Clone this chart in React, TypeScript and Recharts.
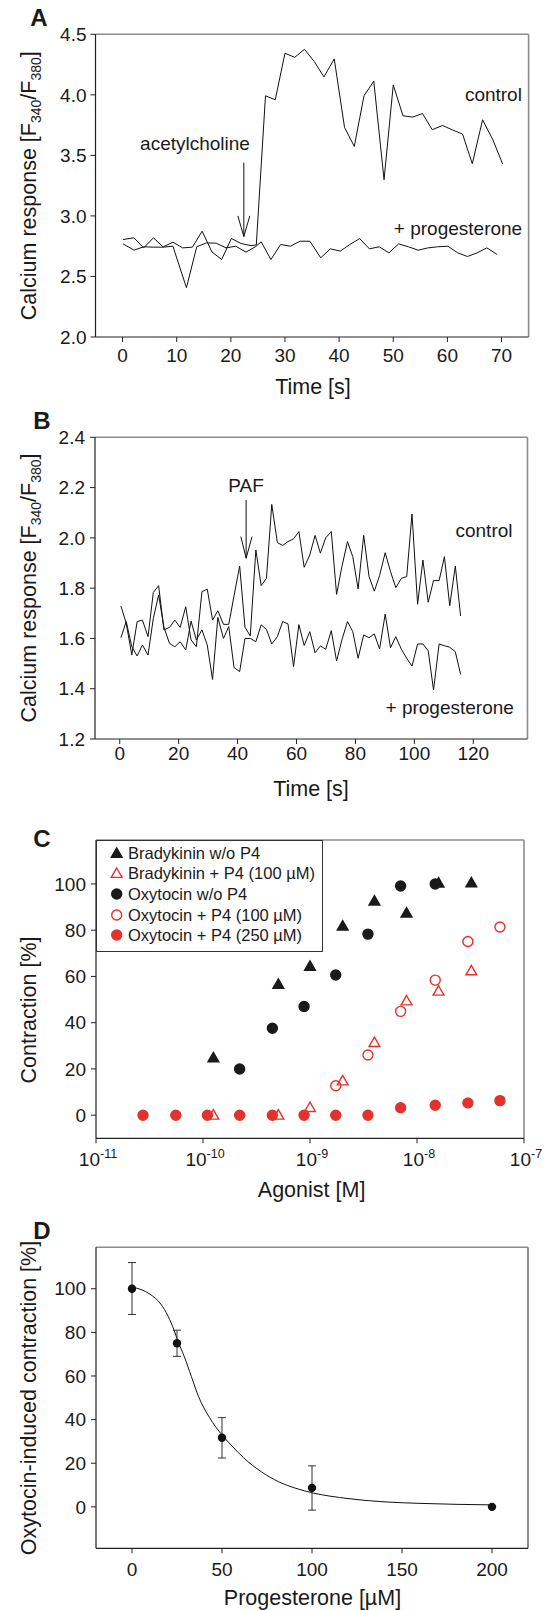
import React from 'react';
import {
  LineChart, Line, XAxis, YAxis, ReferenceLine, ScatterChart, Scatter,
  ComposedChart, ErrorBar,
} from 'recharts';

const FONT = '"Liberation Sans", Arial, Helvetica, sans-serif';
const W = 546;
const RED = '#e3322b';
const INK = '#1a1a1a';
const FRAME = '#8c8c8c';

// ---------- Panel A ----------
const aCtrlTime = [0.1, 2.1, 3.9, 5.7, 7.5, 9.3, 11.1, 12.9, 14.7, 16.5, 18.3, 20.1, 21.9, 23.7, 24.7, 26.4, 28.2, 30.0, 31.8, 33.6, 35.4, 37.2, 39.1, 41.0, 42.8, 44.6, 46.4, 48.3, 50.0, 51.8, 53.6, 55.4, 57.2, 59.1, 61.0, 62.8, 64.6, 66.5, 68.4, 70.2];
const aCtrlValue = [2.805, 2.819, 2.736, 2.819, 2.744, 2.783, 2.736, 2.742, 2.874, 2.703, 2.640, 2.813, 2.772, 2.755, 2.760, 3.992, 3.959, 4.343, 4.310, 4.376, 4.275, 4.148, 4.297, 3.731, 3.574, 3.992, 4.113, 3.299, 4.082, 3.827, 3.816, 3.846, 3.712, 3.747, 3.709, 3.676, 3.431, 3.794, 3.629, 3.429];
const aProgTime = [0.1, 2.1, 3.9, 5.7, 7.5, 9.3, 11.8, 13.7, 15.5, 17.3, 19.1, 20.9, 22.8, 24.6, 25.6, 27.4, 29.2, 31.0, 32.8, 34.6, 36.6, 38.4, 40.2, 42.0, 43.8, 45.6, 47.4, 49.2, 51.0, 52.8, 54.6, 56.4, 58.2, 60.1, 61.9, 63.7, 65.5, 67.3, 69.2];
const aProgValue = [2.769, 2.717, 2.745, 2.742, 2.742, 2.750, 2.407, 2.745, 2.777, 2.775, 2.736, 2.750, 2.701, 2.747, 2.786, 2.640, 2.764, 2.750, 2.791, 2.791, 2.654, 2.728, 2.709, 2.764, 2.813, 2.728, 2.745, 2.695, 2.769, 2.745, 2.717, 2.736, 2.745, 2.750, 2.695, 2.665, 2.695, 2.736, 2.681];
const aXTicks = [0, 10, 20, 30, 40, 50, 60, 70];
const aYTicks = [2.0, 2.5, 3.0, 3.5, 4.0, 4.5];

// ---------- Panel B ----------
const bTime = [0.4, 2.2, 4.1, 5.9, 7.7, 9.6, 11.4, 13.2, 15.0, 16.9, 18.7, 20.5, 22.4, 24.2, 26.0, 27.9, 29.7, 31.5, 33.3, 35.2, 37.0, 38.8, 40.7, 42.5, 44.3, 46.2, 48.0, 49.8, 51.6, 53.5, 55.3, 57.1, 59.0, 60.8, 62.6, 64.5, 66.3, 68.1, 69.9, 71.8, 73.6, 75.4, 77.3, 79.1, 80.9, 82.8, 84.6, 86.4, 88.2, 90.1, 91.9, 93.7, 95.6, 97.4, 99.2, 101.1, 102.9, 104.7, 106.5, 108.4, 110.2, 112.0, 113.9, 115.7];
const bControl = [1.729, 1.660, 1.534, 1.667, 1.673, 1.607, 1.783, 1.810, 1.634, 1.644,
  1.673, 1.644, 1.726, 1.594, 1.567, 1.786, 1.796, 1.673, 1.710, 1.656,
  1.656, 1.770, 1.888, 1.645, 1.610, 1.952, 1.810, 1.839, 2.133, 1.981,
  1.970, 1.985, 1.996, 2.025, 1.883, 1.932, 2.010, 1.939, 2.000, 2.025,
  1.775, 1.885, 1.985, 1.925, 1.797, 2.010, 1.847, 1.788, 1.850, 1.941,
  1.866, 1.802, 1.839, 1.846, 2.095, 1.736, 1.912, 1.744, 1.830, 1.830,
  1.925, 1.730, 1.888, 1.689];
const bProgesterone = [1.603, 1.667, 1.567, 1.530, 1.574, 1.534, 1.680, 1.773, 1.644, 1.580,
  1.567, 1.587, 1.554, 1.669, 1.594, 1.634, 1.574, 1.437, 1.684, 1.600,
  1.647, 1.484, 1.468, 1.600, 1.600, 1.587, 1.654, 1.636, 1.578, 1.607,
  1.667, 1.658, 1.488, 1.655, 1.572, 1.627, 1.543, 1.570, 1.557, 1.631,
  1.510, 1.594, 1.667, 1.627, 1.521, 1.614, 1.603, 1.618, 1.558, 1.697,
  1.563, 1.607, 1.557, 1.521, 1.490, 1.578, 1.578, 1.551, 1.395, 1.578,
  1.571, 1.565, 1.547, 1.457];
const bXTicks = [0, 20, 40, 60, 80, 100, 120];
const bYTicks = [1.2, 1.4, 1.6, 1.8, 2.0, 2.2, 2.4];

// ---------- Panel C ----------
const bkConc = [1.25e-10, 5.06e-10, 1.0e-9, 2.02e-9, 4.0e-9, 7.98e-9, 1.59e-8, 3.22e-8];
const bkNoP4 = [25.0, 56.8, 64.6, 82.0, 92.8, 87.6, 100.6, 100.7];
const bkP4 = [0.2, 0.2, 3.5, 15.0, 31.6, 49.6, 53.8, 62.6];
const oxConc = [2.75e-11, 5.57e-11, 1.10e-10, 2.2e-10, 4.45e-10, 8.8e-10, 1.74e-9, 3.48e-9, 7.03e-9, 1.48e-8, 2.99e-8, 5.96e-8];
const oxNoP4 = [null, null, null, 20.0, 37.6, 47.0, 60.6, 78.3, 99.1, 100.0, null, null];
const oxP4_100 = [null, null, null, null, null, null, 12.7, 26.0, 44.9, 58.4, 75.1, 81.4];
const oxP4_250 = [0, 0, 0, 0, 0, 0, 0, 0, 3.2, 4.3, 5.3, 6.3];
const cXTicks = [1e-11, 1e-10, 1e-9, 1e-8, 1e-7];
const cYTicks = [0, 20, 40, 60, 80, 100];

// ---------- Panel D ----------
const dConc = [0, 25, 50, 100, 200];
const dResp = [100, 75, 31.7, 8.7, 0];
const dErrLow = [11.8, 6, 9.3, 10.2, 0];
const dErrHigh = [12, 6, 9.2, 10.1, 0];
const dFitX = [0, 10, 16, 20, 23.5, 25.5, 29, 33, 37, 43, 50, 56, 62, 72, 81.5, 91, 101, 120, 140, 160, 200];
const dFitY = [100.8, 97.5, 93, 87.5, 80.7, 76, 69, 59.7, 50.5, 41, 33, 27.5, 22.5, 16, 11.5, 8.5, 6.3, 3.8, 2.3, 1.6, 0.9];
const dXTicks = [0, 50, 100, 150, 200];
const dYTicks = [0, 20, 40, 60, 80, 100];

// ---------- tables ----------
const aCtrl = aCtrlTime.map((t, i) => ({ t, v: aCtrlValue[i] }));
const aProg = aProgTime.map((t, i) => ({ t, v: aProgValue[i] }));
const bData = bTime.map((t, i) => ({ t, c: bControl[i], p: bProgesterone[i] }));
const toPts = (xs: number[], ys: (number | null)[]) =>
  xs.map((x, i) => ({ x, y: ys[i] })).filter((d) => d.y !== null) as { x: number; y: number }[];
const cBk = toPts(bkConc, bkNoP4);
const cBkP4 = toPts(bkConc, bkP4);
const cOx = toPts(oxConc, oxNoP4);
const cOx100 = toPts(oxConc, oxP4_100);
const cOx250 = toPts(oxConc, oxP4_250);
const dPts = dConc.map((x, i) => ({ x, y: dResp[i], err: [dErrLow[i], dErrHigh[i]] }));
const dFit = dFitX.map((x, i) => ({ x, y: dFitY[i] }));

const YW = 60;
const XH = 30;
function margins(chartTop: number, chartH: number, left: number, top: number, right: number, bottom: number) {
  return { top: top - chartTop, left: left - YW, right: W - right, bottom: chartH - (bottom - chartTop) - XH };
}

const tickStyle = { fontSize: 19, fill: INK, fontFamily: FONT };
const axisLine = { stroke: '#222', strokeWidth: 1.2 };
const tickLine = { stroke: '#222', strokeWidth: 1 };

// marker shapes
const Tri = ({ cx, cy, fill, stroke }: any) => (
  <polygon
    points={`${cx},${cy - 5} ${cx + 5.4},${cy + 4.4} ${cx - 5.4},${cy + 4.4}`}
    fill={fill}
    stroke={stroke}
    strokeWidth={1.4}
  />
);
const Dot = ({ cx, cy, fill, stroke, r = 5 }: any) => (
  <circle cx={cx} cy={cy} r={r} fill={fill} stroke={stroke} strokeWidth={1.4} />
);

const PowTick = (props: any) => {
  const { x, y, payload } = props;
  const exp = Math.round(Math.log10(payload.value));
  return (
    <text x={x + 2} y={y} textAnchor="middle" fontFamily={FONT} fill={INK}>
      <tspan dy={23} fontSize={19}>10</tspan>
      <tspan dy={-8.5} fontSize={12.5}>{String(exp)}</tspan>
    </text>
  );
};

const legendItems = [
  { label: 'Bradykinin w/o P4', kind: 'tri', fill: INK, stroke: INK },
  { label: 'Bradykinin + P4 (100 µM)', kind: 'tri', fill: 'none', stroke: RED },
  { label: 'Oxytocin w/o P4', kind: 'dot', fill: INK, stroke: INK },
  { label: 'Oxytocin + P4 (100 µM)', kind: 'dot', fill: 'none', stroke: RED },
  { label: 'Oxytocin + P4 (250 µM)', kind: 'dot', fill: RED, stroke: RED },
];

export default function App() {
  const mA = margins(0, 400, 95.5, 34.3, 528.6, 337);
  const mB = margins(400, 410, 95, 437.3, 527.5, 739);
  const mC = margins(810, 410, 96, 840, 524, 1138.3);
  const mD = margins(1220, 390, 96, 1247.3, 528, 1548.3);

  return (
    <div style={{ position: 'absolute', left: 0, top: 0, width: W, height: 1610, background: '#fff', fontFamily: FONT }}>
      {/* Panel A */}
      <div style={{ position: 'absolute', left: 0, top: 0 }}>
        <LineChart width={W} height={400} margin={mA}>
          <XAxis type="number" dataKey="t" domain={[-5, 75]} ticks={aXTicks} interval={0}
            tick={tickStyle} tickSize={5} tickMargin={7} axisLine={axisLine} tickLine={tickLine} height={XH} />
          <YAxis type="number" domain={[2, 4.5]} ticks={aYTicks} interval={0} width={YW}
            tickFormatter={(v: number) => v.toFixed(1)}
            tick={tickStyle} tickSize={5} tickMargin={4} axisLine={axisLine} tickLine={tickLine} />
          <ReferenceLine y={4.5} stroke={FRAME} strokeWidth={1.6} />
          <ReferenceLine x={75} stroke={FRAME} strokeWidth={1.6} />
          <Line data={aProg} dataKey="v" type="linear" dot={false} stroke="#111" strokeWidth={1} isAnimationActive={false} />
          <Line data={aCtrl} dataKey="v" type="linear" dot={false} stroke="#111" strokeWidth={1} isAnimationActive={false} />
          <ReferenceLine segment={[{ x: 22.4, y: 3.44 }, { x: 22.4, y: 2.83 }]} stroke="#111" strokeWidth={1} />
          <ReferenceLine segment={[{ x: 21.3, y: 3.0 }, { x: 22.4, y: 2.83 }]} stroke="#111" strokeWidth={1} />
          <ReferenceLine segment={[{ x: 23.5, y: 3.0 }, { x: 22.4, y: 2.83 }]} stroke="#111" strokeWidth={1} />
        </LineChart>
      </div>

      {/* Panel B */}
      <div style={{ position: 'absolute', left: 0, top: 400 }}>
        <LineChart width={W} height={410} margin={mB} data={bData}>
          <XAxis type="number" dataKey="t" domain={[-8.4, 138.4]} ticks={bXTicks} interval={0}
            tick={tickStyle} tickSize={5} tickMargin={3} axisLine={axisLine} tickLine={tickLine} height={XH} />
          <YAxis type="number" domain={[1.2, 2.4]} ticks={bYTicks} interval={0} width={YW}
            tickFormatter={(v: number) => v.toFixed(1)}
            tick={tickStyle} tickSize={5} tickMargin={5} axisLine={axisLine} tickLine={tickLine} />
          <ReferenceLine y={2.4} stroke={FRAME} strokeWidth={1.6} />
          <ReferenceLine x={138.4} stroke={FRAME} strokeWidth={1.6} />
          <Line dataKey="p" type="linear" dot={false} stroke="#111" strokeWidth={1} isAnimationActive={false} />
          <Line dataKey="c" type="linear" dot={false} stroke="#111" strokeWidth={1} isAnimationActive={false} />
          <ReferenceLine segment={[{ x: 42.9, y: 2.151 }, { x: 42.9, y: 1.919 }]} stroke="#111" strokeWidth={1} />
          <ReferenceLine segment={[{ x: 41.1, y: 2.005 }, { x: 42.9, y: 1.919 }]} stroke="#111" strokeWidth={1} />
          <ReferenceLine segment={[{ x: 44.9, y: 2.005 }, { x: 42.9, y: 1.919 }]} stroke="#111" strokeWidth={1} />
        </LineChart>
      </div>

      {/* Panel C */}
      <div style={{ position: 'absolute', left: 0, top: 810 }}>
        <ScatterChart width={W} height={410} margin={mC}>
          <XAxis type="number" dataKey="x" scale="log" domain={[1e-11, 1e-7]} ticks={cXTicks} interval={0}
            allowDataOverflow tick={<PowTick />} tickSize={5} tickMargin={0} axisLine={axisLine} tickLine={tickLine} height={XH} />
          <YAxis type="number" dataKey="y" domain={[-10, 119]} ticks={cYTicks} interval={0} width={YW}
            tick={tickStyle} tickSize={5} tickMargin={5} axisLine={axisLine} tickLine={tickLine} />
          <ReferenceLine y={119} stroke={FRAME} strokeWidth={1.6} />
          <ReferenceLine x={1e-7} stroke={FRAME} strokeWidth={1.6} />
          <Scatter data={cBk} isAnimationActive={false} shape={(p: any) => <Tri cx={p.cx} cy={p.cy} fill={INK} stroke={INK} />} />
          <Scatter data={cOx} isAnimationActive={false} shape={(p: any) => <Dot cx={p.cx} cy={p.cy} fill={INK} stroke={INK} />} />
          <Scatter data={cOx100} isAnimationActive={false} shape={(p: any) => <Dot cx={p.cx} cy={p.cy} fill="none" stroke={RED} />} />
          <Scatter data={cBkP4} isAnimationActive={false} shape={(p: any) => <Tri cx={p.cx} cy={p.cy} fill="none" stroke={RED} />} />
          <Scatter data={cOx250} isAnimationActive={false} shape={(p: any) => <Dot cx={p.cx} cy={p.cy} fill={RED} stroke={RED} />} />
        </ScatterChart>
      </div>

      {/* Panel D */}
      <div style={{ position: 'absolute', left: 0, top: 1220 }}>
        <ComposedChart width={W} height={390} margin={mD}>
          <XAxis type="number" dataKey="x" domain={[-20, 220]} ticks={dXTicks} interval={0}
            tick={tickStyle} tickSize={5} tickMargin={9} axisLine={axisLine} tickLine={tickLine} height={XH} />
          <YAxis type="number" dataKey="y" domain={[-19, 119]} ticks={dYTicks} interval={0} width={YW}
            tick={tickStyle} tickSize={5} tickMargin={5} axisLine={axisLine} tickLine={tickLine} />
          <ReferenceLine y={119} stroke={FRAME} strokeWidth={1.6} />
          <ReferenceLine x={220} stroke={FRAME} strokeWidth={2} />
          <Line data={dFit} dataKey="y" type="monotone" dot={false} stroke="#111" strokeWidth={1} isAnimationActive={false} />
          <Scatter data={dPts} dataKey="y" isAnimationActive={false}
            shape={(p: any) => <circle cx={p.cx} cy={p.cy} r={4.2} fill="#111" />}>
            <ErrorBar dataKey="err" direction="y" width={4} stroke="#333" strokeWidth={1} />
          </Scatter>
        </ComposedChart>
      </div>

      {/* Legend for C */}
      <div style={{ position: 'absolute', left: 96, top: 840, width: 227, height: 112, border: '1px solid #333', boxSizing: 'border-box', background: '#fff' }}>
        {legendItems.map((it, i) => (
          <div key={i} style={{ position: 'absolute', left: 0, top: 1.7 + i * 20.65, height: 20, width: 226 }}>
            <svg width={30} height={20} style={{ position: 'absolute', left: 0, top: 0 }}>
              {it.kind === 'tri'
                ? <Tri cx={19.7} cy={10} fill={it.fill} stroke={it.stroke} />
                : <Dot cx={19.7} cy={10} fill={it.fill} stroke={it.stroke} />}
            </svg>
            <span style={{ position: 'absolute', left: 31, top: 0, lineHeight: '20px', fontSize: 16.5, color: INK, whiteSpace: 'nowrap' }}>{it.label}</span>
          </div>
        ))}
      </div>

      {/* Text overlay */}
      <svg width={W} height={1610} style={{ position: 'absolute', left: 0, top: 0, pointerEvents: 'none' }} fontFamily={FONT} fill={INK}>
        <text x={39} y={26} fontSize={24} fontWeight="bold" textAnchor="middle">A</text>
        <text x={42} y={428.6} fontSize={24} fontWeight="bold" textAnchor="middle">B</text>
        <text x={42} y={847} fontSize={24} fontWeight="bold" textAnchor="middle">C</text>
        <text x={42} y={1239} fontSize={24} fontWeight="bold" textAnchor="middle">D</text>

        <text transform="translate(36,185.7) rotate(-90)" fontSize={21.5} textAnchor="middle">
          Calcium response [F<tspan fontSize={14} dy={5}>340</tspan><tspan dy={-5}>/F</tspan><tspan fontSize={14} dy={5}>380</tspan><tspan dy={-5}>]</tspan>
        </text>
        <text transform="translate(36,588) rotate(-90)" fontSize={21.5} textAnchor="middle">
          Calcium response [F<tspan fontSize={14} dy={5}>340</tspan><tspan dy={-5}>/F</tspan><tspan fontSize={14} dy={5}>380</tspan><tspan dy={-5}>]</tspan>
        </text>
        <text transform="translate(36,1010) rotate(-90)" fontSize={21.5} textAnchor="middle">Contraction [%]</text>
        <text transform="translate(36,1398) rotate(-90)" fontSize={21.5} textAnchor="middle">Oxytocin-induced contraction [%]</text>

        <text x={313} y={393.5} fontSize={21.5} textAnchor="middle">Time [s]</text>
        <text x={311} y={796} fontSize={21.5} textAnchor="middle">Time [s]</text>
        <text x={311.6} y={1197} fontSize={21.5} textAnchor="middle">Agonist [M]</text>
        <text x={312.5} y={1605} fontSize={21.5} textAnchor="middle">Progesterone [µM]</text>

        <text x={195} y={149.5} fontSize={19} textAnchor="middle">acetylcholine</text>
        <text x={493.4} y={100.7} fontSize={19} textAnchor="middle">control</text>
        <text x={458} y={234.5} fontSize={19} textAnchor="middle">+ progesterone</text>
        <text x={246} y={491.7} fontSize={19} textAnchor="middle">PAF</text>
        <text x={484} y={536.7} fontSize={19} textAnchor="middle">control</text>
        <text x={449.7} y={713.5} fontSize={19} textAnchor="middle">+ progesterone</text>
      </svg>
    </div>
  );
}
